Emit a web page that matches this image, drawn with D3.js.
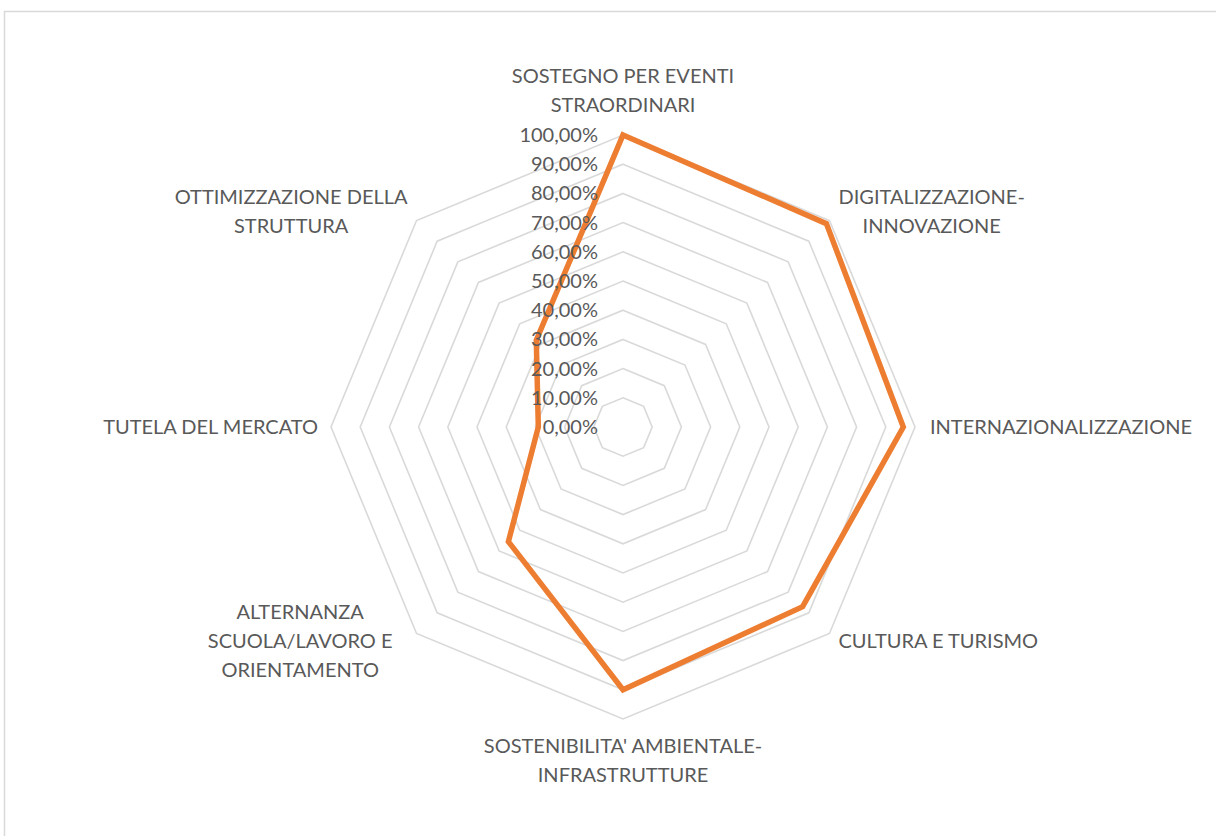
<!DOCTYPE html>
<html>
<head>
<meta charset="utf-8">
<script src="https://cdn.jsdelivr.net/npm/d3@7"></script>
<style>
  html, body { margin: 0; padding: 0; background: #ffffff; }
  svg { display: block; }
  text { font-family: Lato, "Open Sans", sans-serif; fill: #595959; }
</style>
</head>
<body>
<svg id="chart" width="1216" height="836"></svg>
<script>
// ---- data ----
const categories = [
  ["SOSTEGNO PER EVENTI", "STRAORDINARI"],
  ["DIGITALIZZAZIONE-", "INNOVAZIONE"],
  ["INTERNAZIONALIZZAZIONE"],
  ["CULTURA E TURISMO"],
  ["SOSTENIBILITA' AMBIENTALE-", "INFRASTRUTTURE"],
  ["ALTERNANZA", "SCUOLA/LAVORO E", "ORIENTAMENTO"],
  ["TUTELA DEL MERCATO"],
  ["OTTIMIZZAZIONE DELLA", "STRUTTURA"]
];
const values = [1.00, 0.985, 0.96, 0.87, 0.90, 0.555, 0.29, 0.42];
const ticks = [0, 0.1, 0.2, 0.3, 0.4, 0.5, 0.6, 0.7, 0.8, 0.9, 1.0];
const tickLabels = ["0,00%", "10,00%", "20,00%", "30,00%", "40,00%", "50,00%",
                    "60,00%", "70,00%", "80,00%", "90,00%", "100,00%"];

// ---- layout ----
const W = 1216, H = 836;
const cx = 623, cy = 427, R = 292;
const fontSize = 20, lineH = 29;
const svg = d3.select("#chart");

// chart area border
svg.append("rect")
  .attr("x", 4.5).attr("y", 11.5)
  .attr("width", W + 20).attr("height", H + 20)
  .attr("fill", "#ffffff").attr("stroke", "#d9d9d9").attr("stroke-width", 1.5);

const r = d3.scaleLinear().domain([0, 1]).range([0, R]);
const n = categories.length;
const angle = d3.scaleLinear().domain([0, n]).range([0, 2 * Math.PI]);

const g = svg.append("g").attr("transform", `translate(${cx},${cy})`);

const radial = d3.lineRadial()
  .angle((d, i) => angle(i))
  .radius(d => r(d))
  .curve(d3.curveLinearClosed);

// grid rings
g.selectAll("path.ring")
  .data(ticks.filter(t => t > 0))
  .join("path")
  .attr("class", "ring")
  .attr("d", t => radial(d3.range(n).map(() => t)))
  .attr("fill", "none")
  .attr("stroke", "#d9d9d9")
  .attr("stroke-width", 1.6);

// data series
g.append("path")
  .attr("d", radial(values))
  .attr("fill", "none")
  .attr("stroke", "#ED7D31")
  .attr("stroke-width", 5.5)
  .attr("stroke-linejoin", "miter");

// tick labels
g.selectAll("text.tick")
  .data(ticks)
  .join("text")
  .attr("class", "tick")
  .attr("x", -25)
  .attr("y", t => -r(t))
  .attr("dy", "0.35em")
  .attr("text-anchor", "end")
  .attr("font-size", fontSize)
  .text((t, i) => tickLabels[i]);

// category labels
categories.forEach((lines, i) => {
  const a = angle(i);
  const sx = Math.sin(a), sy = -Math.cos(a);
  const px = r(1) * sx, py = r(1) * sy;
  const t = g.append("text").attr("font-size", fontSize).attr("text-anchor", "middle");
  lines.forEach((l, k) => t.append("tspan").attr("x", 0).attr("dy", k === 0 ? 0 : lineH).text(l));
  let maxW = 0;
  t.selectAll("tspan").each(function () { maxW = Math.max(maxW, this.getComputedTextLength()); });
  const blockH = (lines.length - 1) * lineH;
  let x, yc;
  const ax = Math.round(sx * 1000) / 1000, ay = Math.round(sy * 1000) / 1000;
  if (ax === 0 && ay < 0) { x = px; yc = py - 30 - blockH / 2; }
  else if (ax === 0 && ay > 0) { x = px; yc = py + 27 + blockH / 2; }
  else if (ax > 0 && ay === 0) { x = px + 15 + maxW / 2; yc = py; }
  else if (ax < 0 && ay === 0) { x = px - 13 - maxW / 2; yc = py; }
  else if (ax > 0 && ay < 0) { x = px + 9 + maxW / 2; yc = py - 9; }
  else if (ax > 0 && ay > 0) { x = px + 9 + maxW / 2; yc = py + 8; }
  else if (ax < 0 && ay > 0) { x = px - 24 - maxW / 2; yc = py + 8; }
  else { x = px - 9 - maxW / 2; yc = py - 9; }
  t.attr("transform", `translate(${x},${yc - blockH / 2})`);
  t.selectAll("tspan").attr("x", 0);
  t.select("tspan").attr("dy", "0.35em");
});
</script>
</body>
</html>
